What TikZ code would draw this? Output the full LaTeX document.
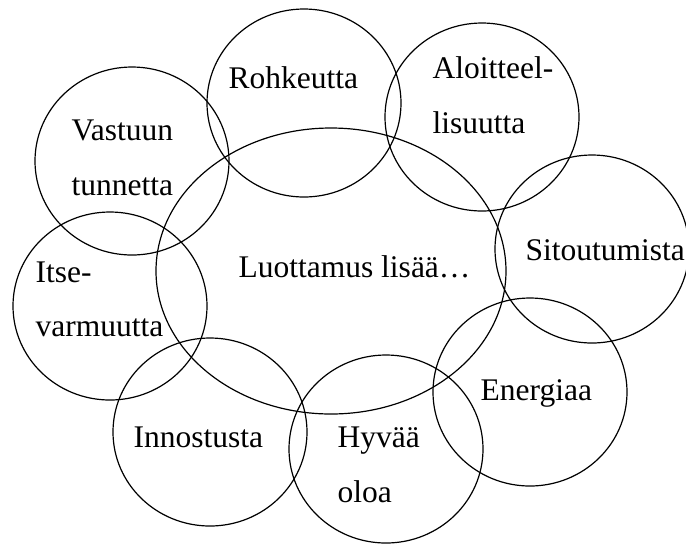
\documentclass[tikz,border=0pt]{standalone}
\usepackage{fontspec}
\setmainfont{Liberation Serif}
\usetikzlibrary{shapes.geometric,positioning}

\begin{document}
\begin{tikzpicture}[x=0.5pt,y=-0.5pt,line width=0.6pt,
  bubble/.style={draw,ellipse,inner sep=0pt,minimum width=97pt,minimum height=94pt},
  word/.style={anchor=base west,inner sep=0pt,font=\fontsize{15.75}{18}\selectfont}]
\useasboundingbox (0,0) rectangle (686,543);
\node[draw,ellipse,inner sep=0pt,minimum width=175pt,minimum height=143pt] (trust) at (331,271) {};
\node[bubble] (rohk) at (304,103) {};
\node[bubble] (aloit) at (482,117) {};
\node[bubble] (vast) at (132,161) {};
\node[bubble] (sitou) at (592,249) {};
\node[bubble] (itse) at (110,306) {};
\node[bubble] (energ) at (530,392) {};
\node[bubble] (innos) at (210,432) {};
\node[bubble] (hyva) at (386,449) {};
% texts
\node[word] (trustT) at (238,277) {Luottamus lisää…};
\node[word] (rohkT) at (228,88) {Rohkeutta};
\node[word] (aloitT) at (432,78) {Aloitteel-};
\node[word] (aloitU) at ([yshift=-27.5pt]aloitT.base west) {lisuutta};
\node[word] (vastT) at (71,140) {Vastuun};
\node[word] (vastU) at ([yshift=-27.5pt]vastT.base west) {tunnetta};
\node[word] (sitouT) at (525,260) {Sitoutumista};
\node[word] (itseT) at (35,282) {Itse-};
\node[word] (itseU) at ([yshift=-27pt]itseT.base west) {varmuutta};
\node[word] (energT) at (480,400) {Energiaa};
\node[word] (innosT) at (133,447) {Innostusta};
\node[word] (hyvaT) at (337,447) {Hyvää};
\node[word] (hyvaU) at ([yshift=-27.5pt]hyvaT.base west) {oloa};
\end{tikzpicture}
\end{document}
